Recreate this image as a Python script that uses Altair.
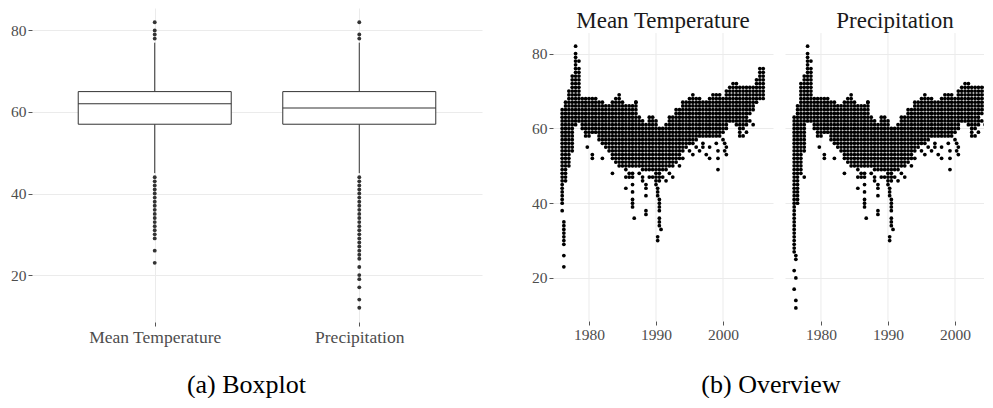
import altair as alt
import pandas as pd

SERIF = "Liberation Serif, DejaVu Serif, serif"
GRID = "#ebebeb"
LABEL = "#4d4d4d"
TICK = "#555555"
BOXCOL = "#333333"

# ---------------- (a) Boxplot: summary values ----------------
variables = ["Mean Temperature", "Precipitation"]
q1 = [57, 57]
median = [62, 61]
q3 = [65, 65]
whisker_low = [45, 45]
whisker_high = [77, 77]
temp_outliers = [82, 80, 79, 78, 44, 43, 42, 41, 40, 39, 38, 37, 36, 35, 34, 33,
                 32, 31, 30, 29, 26, 23]
precip_outliers = [82, 79, 78, 44, 43, 42, 41, 40, 39, 38, 37, 36, 35, 34, 33, 32,
                   31, 30, 29, 28, 27, 26, 25, 24, 22, 20, 19, 17, 14, 12]

# ---------------- (b) Overview: envelope of the point cloud per half-year ----------------
years = [1976.0, 1976.5, 1977.0, 1977.5, 1978.0, 1978.5, 1979.0, 1979.5, 1980.0, 1980.5,
         1981.0, 1981.5, 1982.0, 1982.5, 1983.0, 1983.5, 1984.0, 1984.5, 1985.0, 1985.5,
         1986.0, 1986.5, 1987.0, 1987.5, 1988.0, 1988.5, 1989.0, 1989.5, 1990.0, 1990.5,
         1991.0, 1991.5, 1992.0, 1992.5, 1993.0, 1993.5, 1994.0, 1994.5, 1995.0, 1995.5,
         1996.0, 1996.5, 1997.0, 1997.5, 1998.0, 1998.5, 1999.0, 1999.5, 2000.0, 2000.5,
         2001.0, 2001.5, 2002.0, 2002.5, 2003.0, 2003.5, 2004.0, 2004.5, 2005.0, 2005.5,
         2006.0]
temp_hi = [65, 67, 70, 74, 79, 76, 68, 68, 68, 68,
           68, 67, 67, 66, 66, 67, 68, 69, 67, 66,
           66, 66, 67, 63, 62, 61, 63, 63, 62, 60,
           60, 61, 63, 63, 65, 65, 67, 67, 68, 69,
           68, 68, 67, 67, 68, 69, 69, 69, 68, 70,
           71, 72, 72, 71, 71, 71, 71, 71, 73, 76,
           76]
temp_lo = [45, 46, 50, 54, 61, 62, 60, 58, 58, 59,
           59, 57, 56, 55, 54, 52, 51, 50, 50, 49,
           50, 50, 50, 50, 49, 49, 49, 49, 47, 46,
           49, 49, 50, 50, 51, 52, 54, 55, 56, 56,
           57, 58, 58, 58, 58, 58, 58, 58, 59, 60,
           62, 62, 61, 60, 60, 61, 64, 65, 67, 68,
           68]
precip_hi = [63, 66, 72, 74, 79, 76, 68, 68, 68, 68,
             68, 67, 67, 66, 66, 67, 68, 69, 67, 66,
             66, 66, 67, 63, 62, 61, 63, 63, 62, 60,
             60, 61, 63, 63, 65, 65, 67, 67, 68, 69,
             68, 68, 67, 67, 68, 69, 69, 69, 68, 70,
             71, 72, 72, 71, 71, 71, 71, 71, 73, 76,
             76]
precip_lo = [30, 40, 48, 54, 62, 62, 60, 58, 58, 59,
             59, 57, 56, 55, 54, 52, 51, 50, 50, 49,
             50, 50, 50, 50, 49, 49, 49, 49, 47, 46,
             49, 49, 50, 50, 51, 52, 54, 55, 56, 56,
             57, 58, 58, 58, 58, 58, 58, 58, 59, 60,
             62, 62, 61, 60, 60, 61, 64, 65, 67, 68,
             68]

# isolated points outside the dense band (year, value)
temp_early = [(1976.0, 44), (1976.0, 43), (1976.0, 42), (1976.0, 41), (1976.0, 40),
              (1976.0, 38), (1976.25, 35), (1976.25, 34), (1976.25, 33), (1976.25, 32),
              (1976.25, 31), (1976.25, 30), (1976.25, 29), (1976.25, 26), (1976.25, 23),
              (1978.0, 80), (1978.0, 82), (1978.5, 78)]
precip_early = [(1976.0, 29), (1976.0, 28), (1976.0, 27), (1976.25, 26), (1976.25, 25),
                (1976.0, 22), (1976.25, 20), (1976.0, 17), (1976.25, 14), (1976.25, 12),
                (1977.5, 47), (1978.0, 80), (1978.0, 82), (1978.5, 78)]
stragglers = [(1979.75, 55), (1980.5, 53), (1980.5, 52), (1982.0, 52), (1983.5, 48),
              (1985.5, 47), (1985.5, 44), (1986.0, 48), (1986.0, 47), (1986.5, 48),
              (1986.5, 47), (1986.5, 45), (1986.5, 43), (1986.5, 41), (1986.5, 40),
              (1986.5, 39), (1986.75, 36), (1987.0, 67), (1987.5, 48), (1988.0, 47),
              (1988.0, 46), (1988.5, 45), (1988.5, 44), (1988.5, 42), (1988.5, 38),
              (1988.5, 37), (1989.0, 47), (1989.5, 47), (1990.0, 46), (1990.0, 45),
              (1990.25, 44), (1990.25, 43), (1990.25, 42), (1990.5, 41), (1990.5, 40),
              (1990.5, 39), (1990.5, 38), (1990.5, 36), (1990.5, 35), (1990.5, 34),
              (1990.75, 33), (1990.25, 31), (1990.25, 30), (1991.0, 47), (1991.5, 46),
              (1992.0, 48), (1992.5, 47), (1993.5, 50), (1994.0, 52), (1995.0, 54),
              (1995.5, 53), (1996.0, 55), (1996.5, 54), (1997.0, 56), (1997.0, 55),
              (1997.5, 53), (1998.0, 55), (1998.0, 52), (1999.0, 56), (1999.25, 54),
              (1999.25, 52), (1999.25, 49), (2000.0, 57), (2000.25, 56), (2000.25, 54),
              (2000.5, 55), (2000.5, 53), (2002.5, 59), (2002.5, 58), (2003.0, 58),
              (2003.5, 59), (2004.0, 62), (2004.5, 61)]

year_ticks = [1980, 1990, 2000]
y_ticks = [20, 40, 60, 80]
Y_MIN, Y_MAX = 8.5, 85.5
Y_TOP_RIGHT = 92.2
X_MIN = 1974.63


def cloud(hi, lo, extra):
    rows = []
    for yr, h, l in zip(years, hi, lo):
        for v in range(l, h + 1):
            rows.append({"year": yr, "value": v})
    for yr, v in extra:
        rows.append({"year": yr, "value": v})
    return pd.DataFrame(rows)


# ---------------- left chart ----------------
box_df = pd.DataFrame({"variable": variables, "q1": q1, "median": median, "q3": q3,
                       "wlo": whisker_low, "whi": whisker_high})
out_df = pd.DataFrame(
    [{"variable": variables[0], "value": v} for v in temp_outliers]
    + [{"variable": variables[1], "value": v} for v in precip_outliers])

x_box = alt.X("variable:N",
              scale=alt.Scale(type="point", padding=0.6, domain=variables),
              axis=alt.Axis(title=None, labelAngle=0, grid=True, gridColor=GRID,
                            domain=False, tickColor=TICK, tickSize=4, labelPadding=2,
                            labelFontSize=17.5, labelColor=LABEL, labelFont=SERIF))
y_left_scale = alt.Scale(domain=[Y_MIN, Y_MAX], nice=False, zero=False)
y_left_axis = alt.Axis(title=None, values=y_ticks, grid=True, gridColor=GRID, domain=False,
                       tickColor=TICK, tickSize=4, labelPadding=2, labelFontSize=15.5,
                       labelColor=LABEL, labelFont=SERIF)

base_box = alt.Chart(box_df)
whisk_lo = base_box.mark_rule(color=BOXCOL, strokeWidth=1).encode(
    x=x_box, y=alt.Y("wlo:Q", scale=y_left_scale, axis=y_left_axis), y2="q1:Q")
whisk_hi = base_box.mark_rule(color=BOXCOL, strokeWidth=1).encode(
    x=x_box, y=alt.Y("q3:Q", scale=y_left_scale, axis=y_left_axis), y2="whi:Q")
boxes = base_box.mark_bar(width=153, fill="white", stroke=BOXCOL, strokeWidth=1).encode(
    x=x_box, y=alt.Y("q1:Q", scale=y_left_scale, axis=y_left_axis), y2="q3:Q")
medians = base_box.mark_tick(size=153, thickness=1, color=BOXCOL, orient="horizontal",
                             opacity=1).encode(
    x=x_box, y=alt.Y("median:Q", scale=y_left_scale, axis=y_left_axis))
outliers = alt.Chart(out_df).mark_circle(size=15, color=BOXCOL, opacity=1).encode(
    x=x_box, y=alt.Y("value:Q", scale=y_left_scale, axis=y_left_axis))
cap_a = alt.Chart(pd.DataFrame({"t": ["(a) Boxplot"]})).mark_text(
    font=SERIF, fontSize=26, color="black", align="center", baseline="alphabetic").encode(
    x=alt.value(214.5), y=alt.value(385), text="t:N")

left = alt.layer(whisk_lo, whisk_hi, boxes, medians, outliers, cap_a).properties(
    width=450, height=314)


# ---------------- right panels ----------------
def panel(df, title, width, xmax, show_y, caption=None):
    x_scale = alt.Scale(domain=[X_MIN, xmax], nice=False, zero=False)
    y_scale = alt.Scale(domain=[Y_MIN, Y_TOP_RIGHT], nice=False, zero=False)
    x_axis = alt.Axis(title=None, values=year_ticks, format="d", grid=False, domain=False,
                      tickColor=TICK, tickSize=4, labelPadding=2, labelFontSize=15.5,
                      labelColor=LABEL, labelFont=SERIF)
    y_axis = alt.Axis(title=None, values=y_ticks, grid=True, gridColor=GRID, domain=False,
                      tickColor=TICK, tickSize=4 if show_y else 0, labelPadding=2,
                      labels=show_y, ticks=show_y, labelFontSize=15.5, labelColor=LABEL,
                      labelFont=SERIF)
    vgrid = alt.Chart(pd.DataFrame({"year": year_ticks})).mark_rule(
        color=GRID, strokeWidth=1).encode(
        x=alt.X("year:Q", scale=x_scale, axis=x_axis),
        y=alt.Y(datum=Y_MAX, scale=y_scale, axis=y_axis),
        y2=alt.datum(Y_MIN))
    pts = alt.Chart(df).mark_circle(size=14, color="black", opacity=1, clip=True).encode(
        x=alt.X("year:Q", scale=x_scale, axis=x_axis),
        y=alt.Y("value:Q", scale=y_scale, axis=y_axis))
    ttl = alt.Chart(pd.DataFrame({"t": [title]})).mark_text(
        font=SERIF, fontSize=23, color="#1a1a1a", align="center",
        baseline="alphabetic").encode(x=alt.value(110), y=alt.value(20), text="t:N")
    layers = [vgrid, pts, ttl]
    if caption:
        layers.append(alt.Chart(pd.DataFrame({"t": [caption]})).mark_text(
            font=SERIF, fontSize=26, color="black", align="center",
            baseline="alphabetic").encode(x=alt.value(218), y=alt.value(385), text="t:N"))
    return alt.layer(*layers).properties(width=width, height=313)


p1 = panel(cloud(temp_hi, temp_lo, temp_early + stragglers), "Mean Temperature",
           220, 2007.46, True, "(b) Overview")
p2 = panel(cloud(precip_hi, precip_lo, precip_early + stragglers), "Precipitation",
           199, 2004.33, False)

right = alt.hconcat(p1, p2, spacing=12, bounds="flush")
chart = alt.hconcat(left, right, spacing=71, bounds="flush").properties(
    padding={"left": 2, "top": 0, "right": 0, "bottom": 0},
    background="white",
).configure_view(stroke=None)

chart.save("out.html", embed_options={"renderer": "svg", "actions": False})
